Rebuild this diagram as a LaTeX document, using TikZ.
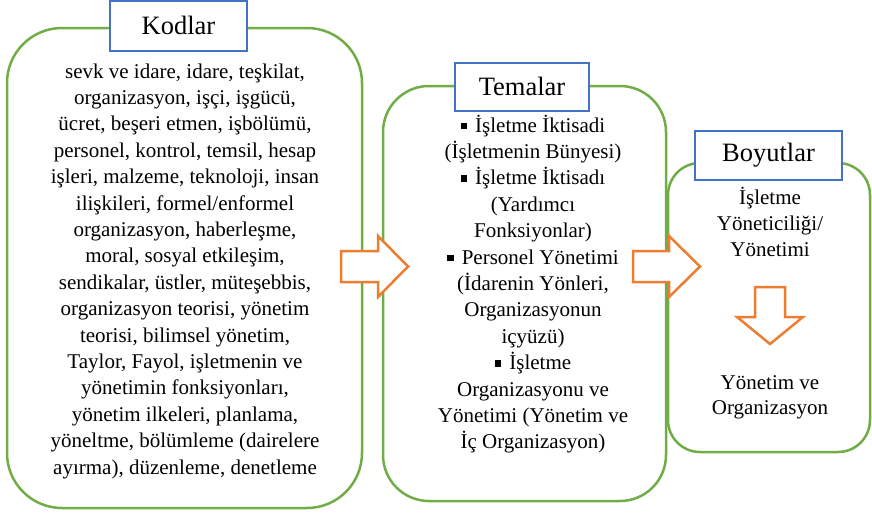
\documentclass[tikz,border=0pt]{standalone}
\usepackage{fontspec}
\setmainfont{Liberation Serif}
\usetikzlibrary{positioning}
\definecolor{yesil}{HTML}{70AD47}
\definecolor{mavi}{HTML}{4472C4}
\definecolor{turuncu}{HTML}{ED7D31}
\tikzstyle{kutu} = [draw=yesil, line width=2.5pt, rectangle, inner sep=0pt]
\tikzstyle{baslik} = [draw=mavi, fill=white, line width=2.5pt, rectangle, inner sep=0pt, font=\fontsize{26.5}{30}\selectfont]
\tikzstyle{metin} = [align=center, inner sep=0pt, anchor=north, font=\fontsize{21}{26.4}\selectfont]
\tikzstyle{blokok} = [draw=turuncu, fill=white, line width=2.5pt, line join=miter]
\newcommand{\madde}{\rule[3pt]{6.5pt}{6.5pt}\hspace{8pt}}

\begin{document}
\begin{tikzpicture}[x=1pt, y=-1pt]
	\useasboundingbox (0,0) rectangle (872,515);
	% ana kutular
	\node [kutu, rounded corners=55pt, minimum width=355pt, minimum height=480pt] (kodlar) at (184.5,268) {};
	\node [kutu, rounded corners=46pt, minimum width=283pt, minimum height=415pt] (temalar) at (524.5,293.5) {};
	\node [kutu, rounded corners=32pt, minimum width=202pt, minimum height=289pt] (boyutlar) at (769,307.5) {};
	% oklar
	\draw [blokok] (341,251) -- (378,251) -- (378,236) -- (408,266.5) -- (378,297) -- (378,282) -- (341,282) -- cycle;
	\draw [blokok] (633,251) -- (669,251) -- (669,236) -- (700,266.5) -- (669,297) -- (669,282) -- (633,282) -- cycle;
	\draw [blokok] (755,287) -- (785,287) -- (785,317) -- (803,317) -- (770,344) -- (737,317) -- (755,317) -- cycle;
	% basliklar
	\node [baslik, minimum width=137pt, minimum height=50pt] (kodlarbaslik) at ([xshift=-6pt, yshift=1pt]kodlar.north) {Kodlar};
	\node [baslik, minimum width=134pt, minimum height=48pt] (temalarbaslik) at ([xshift=-2.5pt, yshift=-2pt]temalar.north) {Temalar};
	\node [baslik, minimum width=147pt, minimum height=49pt] (boyutlarbaslik) at ([xshift=-0.5pt, yshift=6.5pt]boyutlar.north) {Boyutlar};
	% metinler
	\node [metin] (kodlarmetin) at (185,59.5) {\strut sevk ve idare, idare, teşkilat,\\
		organizasyon, işçi, işgücü,\\
		ücret, beşeri etmen, işbölümü,\\
		personel, kontrol, temsil, hesap\\
		işleri, malzeme, teknoloji, insan\\
		ilişkileri, formel/enformel\\
		organizasyon, haberleşme,\\
		moral, sosyal etkileşim,\\
		sendikalar, üstler, müteşebbis,\\
		organizasyon teorisi, yönetim\\
		teorisi, bilimsel yönetim,\\
		Taylor, Fayol, işletmenin ve\\
		yönetimin fonksiyonları,\\
		yönetim ilkeleri, planlama,\\
		yöneltme, bölümleme (dairelere\\
		ayırma), düzenleme, denetleme\strut};
	\node [metin] (temalarmetin) at (533,113.5) {\strut\madde İşletme İktisadi\\
		(İşletmenin Bünyesi)\\
		\madde İşletme İktisadı\\
		(Yardımcı\\
		Fonksiyonlar)\\
		\madde Personel Yönetimi\\
		(İdarenin Yönleri,\\
		Organizasyonun\\
		içyüzü)\\
		\madde İşletme\\
		Organizasyonu ve\\
		Yönetimi (Yönetim ve\\
		İç Organizasyon)\strut};
	\node [metin] (boyutust) at (770,185.5) {\strut İşletme\\ Yöneticiliği/\\ Yönetimi};
	\node [metin, font=\fontsize{21}{24.5}\selectfont] (boyutalt) at (770,372.5) {\strut Yönetim ve\\ Organizasyon};
\end{tikzpicture}
\end{document}
